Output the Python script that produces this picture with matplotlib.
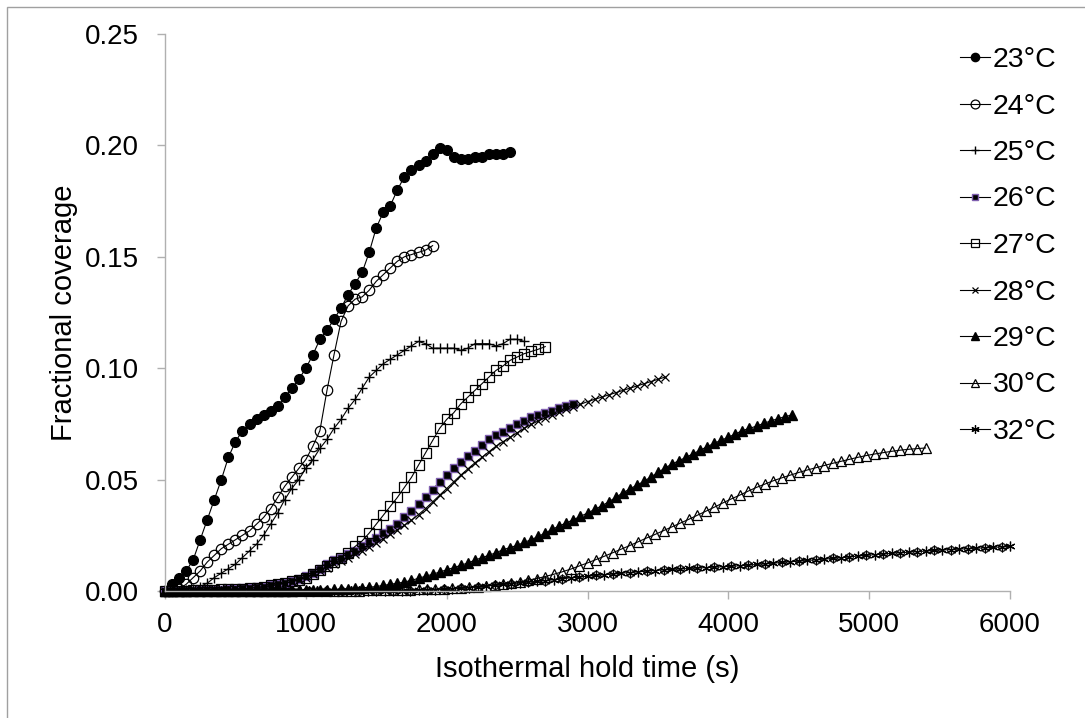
import matplotlib
matplotlib.use('Agg')
import matplotlib.pyplot as plt
import numpy as np
from matplotlib.patches import Rectangle

plt.rcParams['font.family'] = ['Liberation Sans', 'DejaVu Sans']

# Fractional coverage, one value per sampling step
labels = ['23°C', '24°C', '25°C', '26°C', '27°C', '28°C', '29°C', '30°C', '32°C']
steps = [50, 50, 50, 50, 50, 50, 50, 60, 60]   # s between readings

cov23 = [0.000, 0.003, 0.006, 0.009, 0.014, 0.023, 0.032, 0.041, 0.050, 0.060,
         0.067, 0.072, 0.075, 0.077, 0.079, 0.081, 0.083, 0.087, 0.091, 0.095,
         0.100, 0.106, 0.113, 0.117, 0.122, 0.127, 0.133, 0.138, 0.143, 0.152,
         0.163, 0.170, 0.173, 0.180, 0.186, 0.189, 0.191, 0.193, 0.196, 0.199,
         0.198, 0.195, 0.194, 0.194, 0.195, 0.195, 0.196, 0.196, 0.196, 0.197]

cov24 = [0.000, 0.000, 0.001, 0.003, 0.006, 0.009, 0.013, 0.016, 0.019, 0.021,
         0.023, 0.025, 0.027, 0.030, 0.033, 0.037, 0.042, 0.047, 0.051, 0.055,
         0.059, 0.065, 0.072, 0.090, 0.106, 0.121, 0.128, 0.131, 0.132, 0.135,
         0.139, 0.142, 0.145, 0.148, 0.150, 0.151, 0.152, 0.153, 0.155]

cov25 = [0.000, 0.000, 0.000, 0.0005, 0.001, 0.002, 0.0035, 0.006, 0.008, 0.010,
         0.012, 0.015, 0.018, 0.021, 0.025, 0.030, 0.035, 0.041, 0.046, 0.050,
         0.055, 0.059, 0.064, 0.068, 0.073, 0.077, 0.082, 0.086, 0.091, 0.096,
         0.099, 0.102, 0.104, 0.106, 0.108, 0.110, 0.112, 0.111, 0.109, 0.109,
         0.109, 0.109, 0.108, 0.109, 0.111, 0.111, 0.111, 0.110, 0.111, 0.113,
         0.113, 0.112]

cov26 = [0.000, 0.000, 0.000, 0.000, 0.0002, 0.0003, 0.0004, 0.0005, 0.0006, 0.0008,
         0.001, 0.0012, 0.0015, 0.0018, 0.002, 0.0025, 0.003, 0.0037, 0.0045, 0.0055,
         0.0068, 0.0083, 0.010, 0.012, 0.0138, 0.015, 0.0165, 0.018, 0.020, 0.022,
         0.024, 0.026, 0.028, 0.030, 0.033, 0.036, 0.039, 0.042, 0.0455, 0.049,
         0.052, 0.055, 0.058, 0.0605, 0.063, 0.0655, 0.068, 0.070, 0.0715, 0.073,
         0.075, 0.0765, 0.078, 0.079, 0.080, 0.081, 0.082, 0.083, 0.0838]

cov27 = [0.000, 0.000, 0.000, 0.000, 0.0003, 0.0004, 0.0005, 0.0006, 0.0007, 0.0008,
         0.0009, 0.001, 0.0012, 0.0015, 0.002, 0.0025, 0.003, 0.0036, 0.0043, 0.005,
         0.006, 0.0076, 0.0094, 0.011, 0.013, 0.015, 0.017, 0.020, 0.0225, 0.026,
         0.030, 0.034, 0.038, 0.042, 0.0465, 0.051, 0.0565, 0.062, 0.0675, 0.073,
         0.077, 0.080, 0.084, 0.087, 0.090, 0.093, 0.096, 0.099, 0.101, 0.1035,
         0.105, 0.1065, 0.1075, 0.1085, 0.1097]

cov28 = [0.000, 0.000, 0.000, 0.000, 0.0002, 0.0003, 0.0003, 0.0004, 0.0005, 0.0007,
         0.0009, 0.0011, 0.0013, 0.0016, 0.0019, 0.0023, 0.0028, 0.0034, 0.0041, 0.005,
         0.006, 0.0075, 0.009, 0.0105, 0.012, 0.0135, 0.015, 0.0165, 0.018, 0.0198,
         0.0215, 0.0235, 0.0255, 0.0275, 0.0295, 0.0318, 0.0343, 0.037, 0.040, 0.043,
         0.046, 0.049, 0.052, 0.0548, 0.0575, 0.060, 0.0625, 0.065, 0.067, 0.069,
         0.071, 0.073, 0.0748, 0.0763, 0.0778, 0.079, 0.0803, 0.0815, 0.0827, 0.0838,
         0.085, 0.086, 0.087, 0.088, 0.089, 0.090, 0.091, 0.092, 0.093, 0.094,
         0.095, 0.096]

cov29 = [0, 0, 0, 0, 0, 0, 0, 0, 0, 0,
         0, 0, 0, 0.0001, 0.0001, 0.0001, 0.0002, 0.0002, 0.0002, 0.0003,
         0.0003, 0.0004, 0.0005, 0.0006, 0.0007, 0.0008, 0.001, 0.0012, 0.0014, 0.0017,
         0.002, 0.0025, 0.003, 0.0035, 0.004, 0.0048, 0.0057, 0.0066, 0.0075, 0.0085,
         0.0095, 0.0105, 0.0115, 0.0126, 0.0138, 0.015, 0.016, 0.0172, 0.0185, 0.0195,
         0.0205, 0.0218, 0.023, 0.0245, 0.026, 0.0277, 0.0292, 0.0306, 0.032, 0.0335,
         0.035, 0.0366, 0.0382, 0.040, 0.042, 0.044, 0.0458, 0.0475, 0.0492, 0.0512,
         0.0532, 0.0552, 0.057, 0.0585, 0.060, 0.0616, 0.0632, 0.0648, 0.0663, 0.0677,
         0.069, 0.0705, 0.072, 0.073, 0.074, 0.0752, 0.0763, 0.0773, 0.0782, 0.079]

cov30 = [0, 0, 0, 0, 0, 0, 0, 0, 0, 0,
         0, 0, 0, 0, 0, 0, 0, 0, 0, 0,
         0.0001, 0.0001, 0.0002, 0.0002, 0.0003, 0.0003, 0.0004, 0.0004, 0.0005, 0.0006,
         0.0007, 0.0008, 0.0009, 0.001, 0.0012, 0.0015, 0.0018, 0.002, 0.0023, 0.0027,
         0.003, 0.0036, 0.0042, 0.0049, 0.0056, 0.0065, 0.0075, 0.0086, 0.0098, 0.0112,
         0.0126, 0.0141, 0.0156, 0.0172, 0.0188, 0.0204, 0.0221, 0.0238, 0.0254, 0.0271,
         0.0288, 0.0305, 0.0322, 0.034, 0.0358, 0.0376, 0.0395, 0.0413, 0.043, 0.0448,
         0.0465, 0.048, 0.0495, 0.0508, 0.052, 0.0532, 0.0543, 0.0553, 0.0563, 0.0573,
         0.0582, 0.0591, 0.06, 0.0608, 0.0615, 0.0621, 0.0627, 0.0632, 0.0636, 0.0639,
         0.0642]

cov32 = [0, 0, 0, 0, 0, 0, 0, 0, 0, 0,
         0, 0, 0, 0, 0, 0, 0, 0, 0, 0,
         0, 0, 0, 0, 0, 0, 0.0001, 0.0001, 0.0002, 0.0002,
         0.0003, 0.0004, 0.0005, 0.0007, 0.0009, 0.0012, 0.0015, 0.0018, 0.0022, 0.0026,
         0.003, 0.0033, 0.0036, 0.004, 0.0043, 0.0047, 0.0051, 0.0055, 0.0059, 0.0062,
         0.0066, 0.007, 0.0073, 0.0076, 0.008, 0.0083, 0.0086, 0.0089, 0.0092, 0.0095,
         0.0097, 0.0099, 0.0101, 0.0103, 0.0105, 0.0107, 0.0109, 0.0111, 0.0113, 0.0116,
         0.0119, 0.0122, 0.0125, 0.0128, 0.0131, 0.0134, 0.0137, 0.014, 0.0143, 0.0146,
         0.0149, 0.0153, 0.0157, 0.016, 0.0163, 0.0166, 0.0169, 0.0172, 0.0174, 0.0177,
         0.0179, 0.0182, 0.0184, 0.0186, 0.0188, 0.019, 0.0192, 0.0194, 0.0196, 0.0198,
         0.020]

series = [cov23, cov24, cov25, cov26, cov27, cov28, cov29, cov30, cov32]

styles = [
    dict(marker='o', ms=7, mfc='k', mec='k'),
    dict(marker='o', ms=7.5, mfc='none', mec='k', mew=0.9),
    dict(marker='+', ms=7, mec='k', mew=1.0),
    dict(marker='s', ms=5.5, mfc='k', mec='#8060b0', mew=1.0),
    dict(marker='s', ms=6.5, mfc='none', mec='k', mew=0.9),
    dict(marker='x', ms=5.5, mec='k', mew=0.9),
    dict(marker='^', ms=6.5, mfc='k', mec='k'),
    dict(marker='^', ms=7, mfc='none', mec='k', mew=0.9),
    dict(marker=(6, 2, 0), ms=7, mec='k', mew=0.9),
]

fig = plt.figure(figsize=(10.85, 7.18), dpi=100)
ax = fig.add_axes([165/1085, 1 - 591/718, 845/1085, 557/718])

for cov, step, lab, st in zip(series, steps, labels, styles):
    t = np.arange(len(cov)) * step
    ax.plot(t, cov, '-', color='k', lw=0.8, label=lab, clip_on=False, **st)

# 32 C trace shows rings between the asterisks
t32 = np.arange(len(cov32)) * steps[-1]
ax.plot(t32[1::2], np.array(cov32)[1::2], 'o', ms=5.5, mfc='none', mec='k',
        mew=0.8, clip_on=False)

ax.set_xlim(0, 6000)
ax.set_ylim(0, 0.25)
ax.set_xticks(np.arange(0, 6001, 1000))
ax.set_yticks(np.arange(0, 0.251, 0.05))
ax.yaxis.set_major_formatter(plt.FormatStrFormatter('%.2f'))

for s in ['top', 'right']:
    ax.spines[s].set_visible(False)
for s in ['left', 'bottom']:
    ax.spines[s].set_color('#b0b0b0')
    ax.spines[s].set_linewidth(1)

ax.tick_params(axis='both', direction='out', length=6, width=1,
               color='#b0b0b0', labelsize=20)
ax.tick_params(axis='y', pad=13)
ax.tick_params(axis='x', pad=9)

ax.set_xlabel('Isothermal hold time (s)', fontsize=21)
ax.set_ylabel('Fractional coverage', fontsize=21)
ax.xaxis.set_label_coords(0.5, -0.115)
ax.yaxis.set_label_coords(-0.103, 0.5)

handles, labs = ax.get_legend_handles_labels()
fig.legend(handles, labs, loc='upper left', bbox_to_anchor=(960/1085, 1 - 47/718),
           frameon=False, fontsize=20.5, handlelength=1.05, handletextpad=0.1,
           labelspacing=0.72, borderpad=0, borderaxespad=0, numpoints=1,
           markerscale=0.85)

# chart-area frame (only top and left edges fall inside the picture)
fig.add_artist(Rectangle((7/1085, -0.1), 1.2, 1.1 - 7/718, transform=fig.transFigure,
                         fill=False, ec='#a0a0a0', lw=1))

fig.savefig('out.png', dpi=100)
